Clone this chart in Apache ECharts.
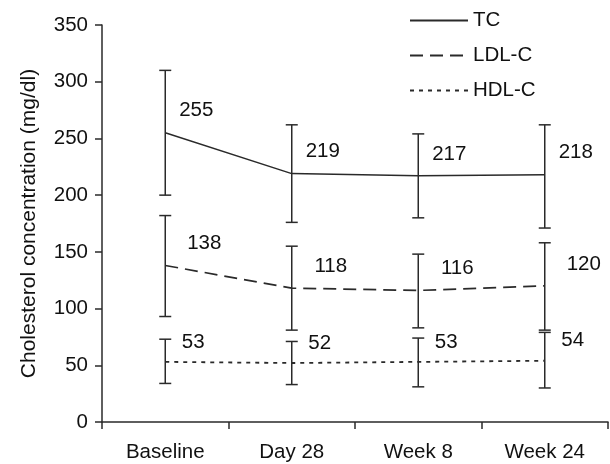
<!DOCTYPE html>
<html>
<head>
<meta charset="utf-8">
<script src="https://cdn.jsdelivr.net/npm/echarts@6/dist/echarts.min.js"></script>
<style>
html,body{margin:0;padding:0;background:#fff;}
#chart{width:610px;height:464px;}
</style>
</head>
<body>
<div id="chart"></div>
<script>
var categories = ['Baseline', 'Day 28', 'Week 8', 'Week 24'];
var yTicks = [0, 50, 100, 150, 200, 250, 300, 350];

var tcMean = [255, 219, 217, 218];
var tcLow  = [200, 176, 180, 171];
var tcHigh = [310, 262, 254, 262];

var ldlMean = [138, 118, 116, 120];
var ldlLow  = [93, 81, 83, 81];
var ldlHigh = [182, 155, 148, 158];

var hdlMean = [53, 52, 53, 54];
var hdlLow  = [34, 33, 31, 30];
var hdlHigh = [73, 71, 74, 79];

var FONT = "'Liberation Sans', Arial, sans-serif";
var INK = '#2a2a2a';

function errData(low, high) {
  return categories.map(function (c, i) { return [i, low[i], high[i]]; });
}

function errRender(params, api) {
  var x = api.value(0);
  var lo = api.coord([x, api.value(1)]);
  var hi = api.coord([x, api.value(2)]);
  var cap = 6;
  var st = { stroke: INK, lineWidth: 1.5 };
  return {
    type: 'group',
    children: [
      { type: 'line', shape: { x1: lo[0], y1: lo[1], x2: hi[0], y2: hi[1] }, style: st },
      { type: 'line', shape: { x1: lo[0] - cap, y1: lo[1], x2: lo[0] + cap, y2: lo[1] }, style: st },
      { type: 'line', shape: { x1: hi[0] - cap, y1: hi[1], x2: hi[0] + cap, y2: hi[1] }, style: st }
    ]
  };
}

function lineSeries(name, data, dash, width, offset) {
  return {
    name: name,
    type: 'line',
    data: data,
    symbol: 'circle',
    symbolSize: 1,
    itemStyle: { color: 'rgba(0,0,0,0)' },
    lineStyle: { color: INK, width: width, type: dash },
    z: 3,
    label: {
      show: true,
      position: 'inside',
      offset: offset,
      color: '#111',
      fontSize: 20.5,
      fontFamily: FONT
    },
    emphasis: { disabled: true },
    animation: false
  };
}

function errSeries(low, high) {
  return {
    type: 'custom',
    renderItem: errRender,
    data: errData(low, high),
    z: 2,
    silent: true,
    animation: false
  };
}

var chart = echarts.init(document.getElementById('chart'), null, { renderer: 'canvas' });
chart.setOption({
  backgroundColor: '#fff',
  animation: false,
  textStyle: { fontFamily: FONT },
  grid: { left: 102, right: 2, top: 25, bottom: 42 },
  legend: {
    orient: 'vertical',
    left: 404,
    top: 5,
    itemWidth: 58,
    itemHeight: 14,
    itemGap: 14,
    data: ['TC', 'LDL-C', 'HDL-C'],
    textStyle: { fontSize: 20.5, color: '#111', fontFamily: FONT },
    selectedMode: false
  },
  xAxis: {
    type: 'category',
    data: categories,
    boundaryGap: true,
    axisLine: { lineStyle: { color: INK, width: 1.5 } },
    axisTick: { show: true, length: 7, inside: false, lineStyle: { color: INK, width: 1.5 } },
    axisLabel: { fontSize: 20.5, color: '#111', margin: 20, fontFamily: FONT }
  },
  yAxis: {
    type: 'value',
    min: yTicks[0],
    max: yTicks[yTicks.length - 1],
    interval: 50,
    name: 'Cholesterol concentration (mg/dl)',
    nameLocation: 'middle',
    nameGap: 62,
    nameRotate: 90,
    nameTextStyle: { fontSize: 21, color: '#111', fontFamily: FONT },
    splitLine: { show: false },
    axisLine: { show: true, lineStyle: { color: INK, width: 1.5 } },
    axisTick: { show: true, length: 7, lineStyle: { color: INK, width: 1.5 } },
    axisLabel: { fontSize: 20.5, color: '#111', margin: 14, fontFamily: FONT }
  },
  series: [
    lineSeries('TC', tcMean, 'solid', 1.5, [31, -22]),
    lineSeries('LDL-C', ldlMean, [13, 7], 1.7, [39, -22]),
    lineSeries('HDL-C', hdlMean, [4, 5], 1.8, [28, -20]),
    errSeries(tcLow, tcHigh),
    errSeries(ldlLow, ldlHigh),
    errSeries(hdlLow, hdlHigh)
  ]
});
</script>
</body>
</html>
